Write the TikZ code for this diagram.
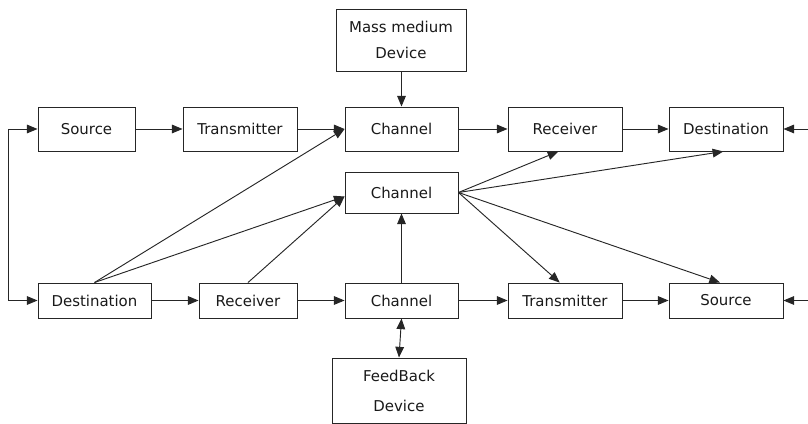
\documentclass[tikz,border=0pt]{standalone}
\usepackage{fontspec}
\setmainfont{DejaVu Sans}
\usetikzlibrary{arrows.meta}
\begin{document}
\begin{tikzpicture}[x=0.75pt,y=-0.75pt,
  box/.style={draw=black!85,line width=0.7pt,rectangle,inner sep=0pt,
    font=\fontsize{11.2}{13}\selectfont,text=black!90},
  arr/.style={draw=black!85,line width=0.7pt,-{Triangle[length=8pt,width=6.5pt]}},
  darr/.style={draw=black!85,line width=0.7pt,{Triangle[length=8pt,width=6.5pt]}-{Triangle[length=8pt,width=6.5pt]}},
  ln/.style={draw=black!85,line width=0.7pt}]
\useasboundingbox (0,0) rectangle (808,424);
% top row
\node[box,minimum width=97*0.75pt,minimum height=44*0.75pt] (src1) at (86.5,129) {Source};
\node[box,minimum width=114*0.75pt,minimum height=44*0.75pt] (tx1) at (240,129) {Transmitter};
\node[box,minimum width=113*0.75pt,minimum height=44*0.75pt] (ch1) at (401.5,129) {Channel};
\node[box,minimum width=114*0.75pt,minimum height=44*0.75pt] (rx1) at (565,129) {Receiver};
\node[box,minimum width=114*0.75pt,minimum height=44*0.75pt] (dst1) at (726,129) {Destination};
\node[box,minimum width=130*0.75pt,minimum height=62*0.75pt,align=center,
  font=\fontsize{11.2}{19}\selectfont] (mass) at (401,40) {Mass medium\\Device};
% middle
\node[box,minimum width=113*0.75pt,minimum height=41*0.75pt] (ch2) at (401.5,192.5) {Channel};
% bottom row
\node[box,minimum width=113*0.75pt,minimum height=35*0.75pt] (dst2) at (94.5,300.5) {Destination};
\node[box,minimum width=98*0.75pt,minimum height=35*0.75pt] (rx2) at (248,300.5) {Receiver};
\node[box,minimum width=113*0.75pt,minimum height=35*0.75pt] (ch3) at (401.5,300.5) {Channel};
\node[box,minimum width=114*0.75pt,minimum height=35*0.75pt] (tx2) at (565,300.5) {Transmitter};
\node[box,minimum width=114*0.75pt,minimum height=35*0.75pt] (src2) at (726,300.5) {Source};
\node[box,minimum width=134*0.75pt,minimum height=65*0.75pt,align=center,
  font=\fontsize{11.2}{22.5}\selectfont] (fb) at (399,390.5) {FeedBack\\Device};
% free ends
\coordinate (lt) at (8,129);
\coordinate (lb) at (8,300.5);
\coordinate (rt) at (808,129);
\coordinate (rb) at (808,300.5);
% left loop
\draw[arr] (lt) -- (src1.west);
\draw[arr] (lt) -- (lb) -- (dst2.west);
% right incoming
\draw[arr] (rt) -- (dst1.east);
\draw[arr] (rb) -- (src2.east);
% top chain
\draw[arr] (src1) -- (tx1);
\draw[arr] (tx1) -- (ch1);
\draw[arr] (ch1) -- (rx1);
\draw[arr] (rx1) -- (dst1);
\draw[arr] (mass.south -| ch1.north) -- (ch1.north);
% bottom chain
\draw[arr] (dst2) -- (rx2);
\draw[arr] (rx2) -- (ch3);
\draw[arr] (ch3) -- (tx2);
\draw[arr] (tx2) -- (src2);
\draw[arr] (ch3.north) -- (ch2.south);
\draw[darr] (fb.north) -- (ch3.south);
% diagonals into channels
\draw[arr] (dst2.north) -- (ch1.west);
\draw[arr] (dst2.north) -- ([yshift=-3pt]ch2.west);
\draw[arr] (rx2.north) -- ([yshift=-3pt]ch2.west);
% fan out from middle channel
\draw[arr] (ch2.east) -- ([xshift=-5pt]rx1.south);
\draw[arr] (ch2.east) -- ([xshift=-2pt]dst1.south);
\draw[arr] (ch2.east) -- ([xshift=-4pt]tx2.north);
\draw[arr] (ch2.east) -- ([xshift=-4.5pt]src2.north);
\end{tikzpicture}
\end{document}
